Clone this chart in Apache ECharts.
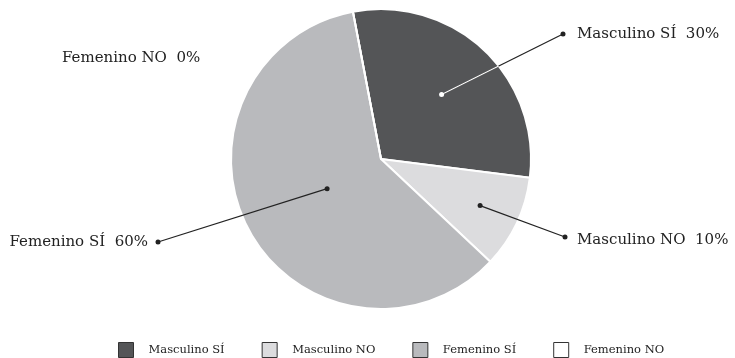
<!DOCTYPE html>
<html>
<head>
<meta charset="utf-8">
<script src="https://cdn.jsdelivr.net/npm/echarts@6/dist/echarts.min.js"></script>
<style>
  html, body { margin: 0; padding: 0; background: #fff; }
  #main { width: 735px; height: 358px; }
</style>
</head>
<body>
<div id="main"></div>
<script>
var categories = ['Masculino SÍ', 'Masculino NO', 'Femenino SÍ', 'Femenino NO'];
var percents = [30, 10, 60, 0];
var colors = ['#545557', '#dcdcde', '#b9babd', '#ffffff'];

var myChart = echarts.init(document.getElementById('main'));

// pie geometry
var cx = 381, cy = 159, R = 150, startAngle = 100.8;
// where each label sits, and how deep its leader starts inside the slice
var labelSpots = [
  { x: 577, y: 34, align: 'left', dot: [563, 34], depth: 0.59 },
  { x: 577, y: 240, align: 'left', dot: [565, 237], depth: 0.73 },
  { x: 148, y: 242, align: 'right', dot: [158, 242], depth: 0.41 },
  { x: 62, y: 58, align: 'left', dot: null, depth: 0 }
];

var total = percents.reduce(function (a, b) { return a + b; }, 0);
var graphics = [];
var acc = 0;
percents.forEach(function (v, i) {
  var mid = (startAngle - (acc + v / 2) / total * 360) * Math.PI / 180;
  acc += v;
  var s = labelSpots[i];
  if (!s.dot) return;
  var inner = [cx + Math.cos(mid) * R * s.depth, cy - Math.sin(mid) * R * s.depth];
  // point where the leader crosses the rim
  var dx = s.dot[0] - inner[0], dy = s.dot[1] - inner[1];
  var fx = inner[0] - cx, fy = inner[1] - cy;
  var a = dx * dx + dy * dy, b = 2 * (fx * dx + fy * dy), c = fx * fx + fy * fy - R * R;
  var t = (-b + Math.sqrt(b * b - 4 * a * c)) / (2 * a);
  var edge = [inner[0] + t * dx, inner[1] + t * dy];
  var dark = i === 0;
  graphics.push({ type: 'line', z: 10, shape: { x1: inner[0], y1: inner[1], x2: s.dot[0], y2: s.dot[1] }, style: { stroke: '#222', lineWidth: 1.2 } });
  if (dark) {
    graphics.push({ type: 'line', z: 11, shape: { x1: inner[0], y1: inner[1], x2: edge[0], y2: edge[1] }, style: { stroke: '#fff', lineWidth: 1.2 } });
  }
  graphics.push({ type: 'circle', z: 12, shape: { cx: inner[0], cy: inner[1], r: 2.5 }, style: { fill: dark ? '#fff' : '#222' } });
  graphics.push({ type: 'circle', z: 12, shape: { cx: s.dot[0], cy: s.dot[1], r: 2.5 }, style: { fill: '#222' } });
});

var option = {
  backgroundColor: '#fff',
  color: colors,
  textStyle: { fontFamily: 'DejaVu Serif' },
  legend: {
    data: categories,
    left: 113,
    top: 337,
    itemWidth: 15,
    itemHeight: 15,
    itemGap: 37,
    icon: 'rect',
    itemStyle: { borderColor: '#333', borderWidth: 1 },
    textStyle: { fontFamily: 'DejaVu Serif', fontSize: 11.5, color: '#222', padding: [0, 0, 0, 10] }
  },
  graphic: graphics,
  series: [{
    type: 'pie',
    center: [cx, cy],
    radius: R,
    startAngle: startAngle,
    clockwise: true,
    silent: true,
    itemStyle: { borderColor: '#fff', borderWidth: 2 },
    label: {
      show: true,
      formatter: function (p) { return p.name + '  ' + p.value + '%'; },
      fontFamily: 'DejaVu Serif',
      fontSize: 15,
      color: '#222'
    },
    labelLine: { show: false },
    labelLayout: function (p) {
      var s = labelSpots[p.dataIndex];
      return { x: s.x, y: s.y, align: s.align, verticalAlign: 'middle' };
    },
    data: categories.map(function (c, i) { return { name: c, value: percents[i] }; })
  }]
};

myChart.setOption(option);
</script>
</body>
</html>
